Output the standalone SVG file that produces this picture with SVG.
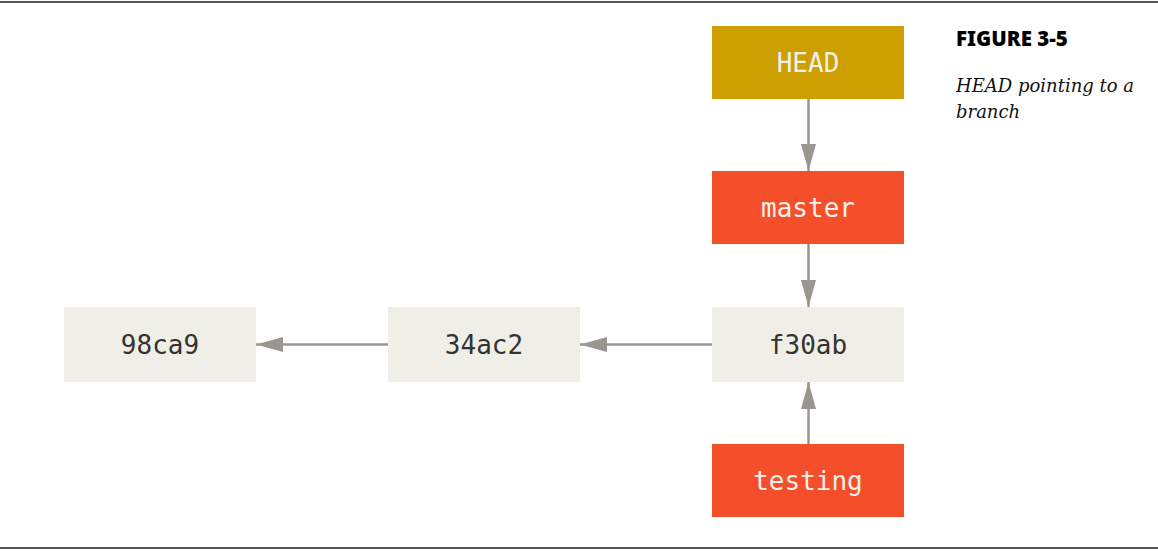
<svg xmlns="http://www.w3.org/2000/svg" width="1158" height="553" viewBox="0 0 1158 553">
<style>
.commit{fill:#efeee7}
.branch{fill:#f54e2a}
.head{fill:#cd9f00}
.lbl{font-family:"DejaVu Sans Mono",monospace;font-size:26px;text-anchor:middle}
.dark{fill:#333333}
.light{fill:#f3f1ea}
.conn{stroke:#9a958f;stroke-width:2.5;fill:none}
.rule{stroke:#555555;stroke-width:2}
</style>
<defs>
<marker id="ah" viewBox="0 0 27 15" refX="27" refY="7.5" markerWidth="27" markerHeight="15" markerUnits="userSpaceOnUse" orient="auto">
<path d="M0,0 L27,7.5 L0,15 Z" fill="#9a958f"/>
</marker>
</defs>
<rect width="1158" height="553" fill="#ffffff"/>
<line class="rule" x1="0" y1="2" x2="1158" y2="2"/>
<line class="rule" x1="0" y1="548" x2="1158" y2="548"/>
<g id="connectors">
<line class="conn" x1="808.5" y1="99" x2="808.5" y2="171" marker-end="url(#ah)"/>
<line class="conn" x1="808.5" y1="244" x2="808.5" y2="307" marker-end="url(#ah)"/>
<line class="conn" x1="808.5" y1="444" x2="808.5" y2="382" marker-end="url(#ah)"/>
<line class="conn" x1="712" y1="344.5" x2="580" y2="344.5" marker-end="url(#ah)"/>
<line class="conn" x1="388" y1="344.5" x2="256" y2="344.5" marker-end="url(#ah)"/>
</g>
<g id="HEAD">
<rect class="head" x="712" y="26" width="192" height="73"/>
<text class="lbl light" x="808" y="72">HEAD</text>
</g>
<g id="master">
<rect class="branch" x="712" y="171" width="192" height="73"/>
<text class="lbl light" x="808" y="217">master</text>
</g>
<g id="f30ab">
<rect class="commit" x="712" y="307" width="192" height="75"/>
<text class="lbl dark" x="808" y="354">f30ab</text>
</g>
<g id="c34ac2">
<rect class="commit" x="388" y="307" width="192" height="75"/>
<text class="lbl dark" x="484" y="354">34ac2</text>
</g>
<g id="c98ca9">
<rect class="commit" x="64" y="307" width="192" height="75"/>
<text class="lbl dark" x="160" y="354">98ca9</text>
</g>
<g id="testing">
<rect class="branch" x="712" y="444" width="192" height="73"/>
<text class="lbl light" x="808" y="490">testing</text>
</g>
<g id="caption">
<text x="956" y="46" font-family="'Noto Sans','DejaVu Sans',sans-serif" font-weight="900" font-size="20.5" fill="#000">FIGURE 3-5</text>
<text font-family="'DejaVu Serif','Liberation Serif',serif" font-style="italic" font-size="18" fill="#111">
<tspan x="956" y="92">HEAD pointing to a</tspan>
<tspan x="956" y="118">branch</tspan>
</text>
</g>
</svg>
